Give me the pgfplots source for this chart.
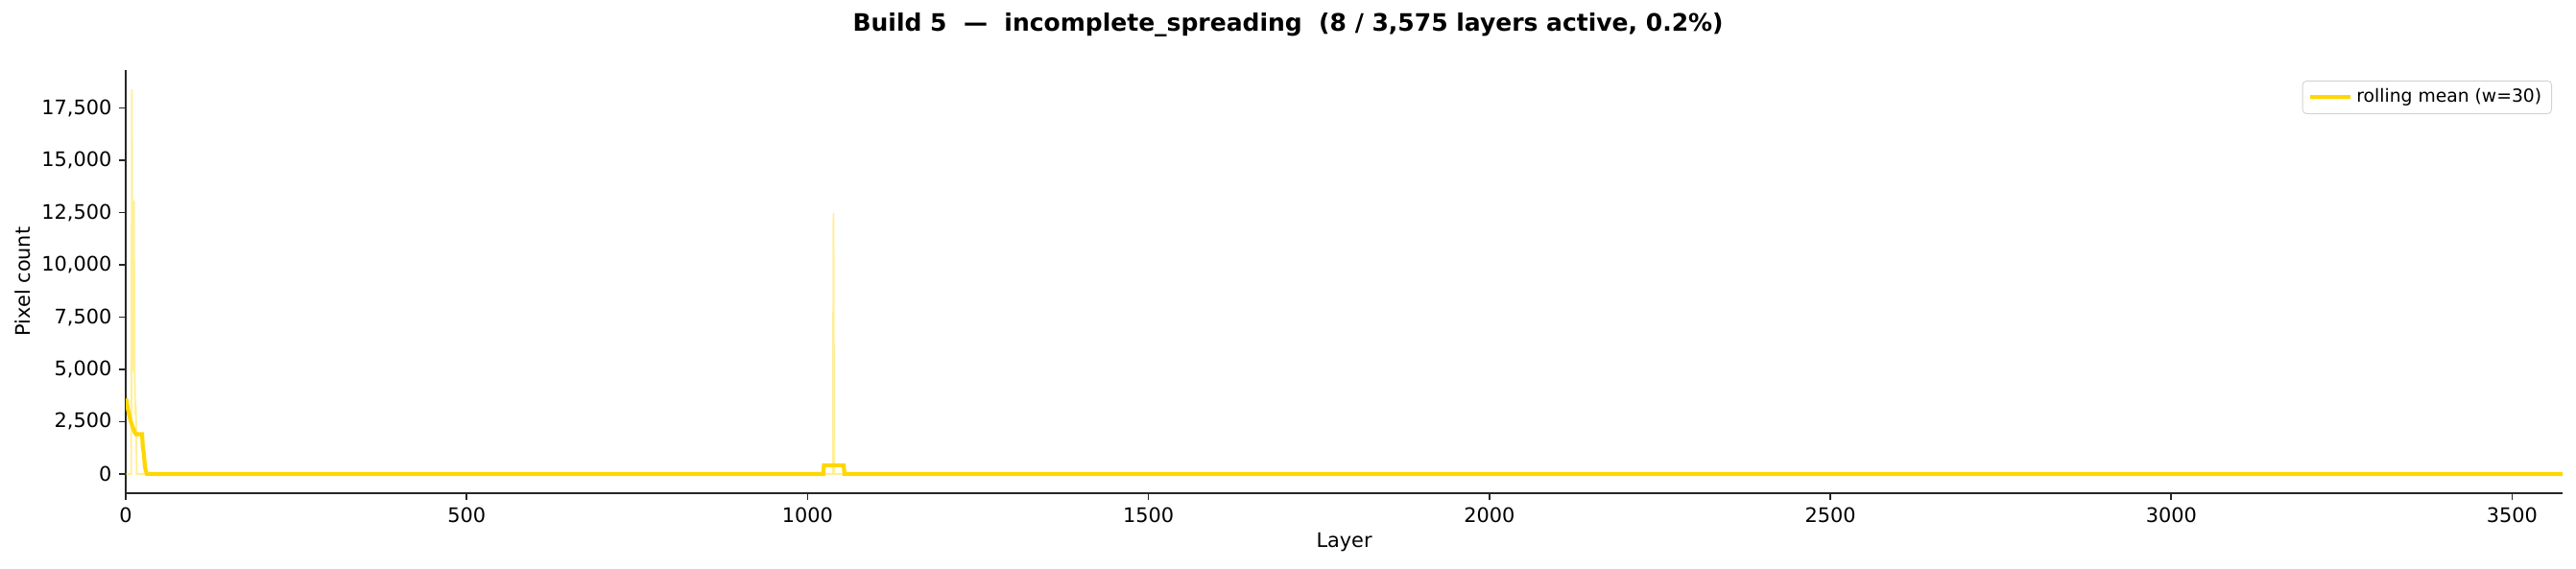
\documentclass[border=0pt]{standalone}
\usepackage{pgfplots}
\pgfplotsset{compat=1.18}
\usepackage{fontspec}
\setmainfont{DejaVu Sans}
\definecolor{gold}{HTML}{FFD700}
\definecolor{spine}{HTML}{262626}
\begin{document}
\begin{tikzpicture}
\begin{axis}[
  scale only axis, width=1218.7pt, height=211.7pt,
  xmin=0, xmax=3574, ymin=-920, ymax=19320,
  axis lines*=left,
  axis line style={spine, line width=0.8pt, -},
  xtick={0,500,1000,1500,2000,2500,3000,3500},
  ytick={0,2500,5000,7500,10000,12500,15000,17500},
  scaled y ticks=false, scaled x ticks=false,
  tick style={spine, line width=0.8pt},
  tick align=outside, major tick length=3.5pt,
  /pgf/number format/assume math mode=true,
  xticklabel style={/pgf/number format/1000 sep={}},
  yticklabel style={/pgf/number format/.cd,fixed,1000 sep={,}},
  tick label style={font=\fontsize{10}{12}\selectfont, text=black},
  xlabel={Layer}, ylabel={Pixel count},
  label style={font=\fontsize{10}{12}\selectfont},
  xlabel style={at={(axis description cs:0.5,-0.1157)}, anchor=center},
  ylabel style={at={(axis description cs:-0.0422,0.5)}, anchor=center},
  legend style={at={(1,1)}, anchor=north east, xshift=-5.3pt, yshift=-5.3pt,
    draw=black!18, rounded corners=2pt, fill=white,
    font=\fontsize{9}{11}\selectfont, inner xsep=3pt, inner ysep=2pt},
  legend cell align=left,
  legend image code/.code={\draw[#1] (0pt,0pt) -- (20pt,0pt);},
]
\addplot[gold, opacity=0.4, line width=0.9pt, forget plot] coordinates {
(0,0) (8,0) (9,18400) (10,4900) (11,9000) (12,13070) (13,5000) (14,3000) (15,3070) (16,0)
(1037,0) (1038,12490) (1039,0) (3574,0)};
\addplot[gold, line width=2pt] coordinates {
(0,3600) (1,3528) (2,3320) (3,3136) (4,2971) (5,2822) (6,2688) (7,2565) (8,2454) (9,2352)
(10,2258) (11,2171) (12,2090) (13,2016) (14,1946) (15,1900) (24,1900) (25,1268) (26,1105)
(27,805) (28,369) (29,202) (30,102) (31,0) (1023,0) (1024,416) (1053,416) (1054,0) (3574,0)};
\addlegendentry{rolling mean (w=30)}
\end{axis}
\node[font=\bfseries\fontsize{12}{14}\selectfont, anchor=center] at ([xshift=581.3pt, yshift=22.5pt]current axis.north west)
  {Build 5\ \ —\ \ incomplete\_spreading\ \ (8 / 3,575 layers active, 0.2\%)};
\pgfresetboundingbox
\path ([shift={(-62.9pt,-37.9pt)}]current axis.south west) rectangle ([shift={(6.7pt,35pt)}]current axis.north east);
\end{tikzpicture}
\end{document}
